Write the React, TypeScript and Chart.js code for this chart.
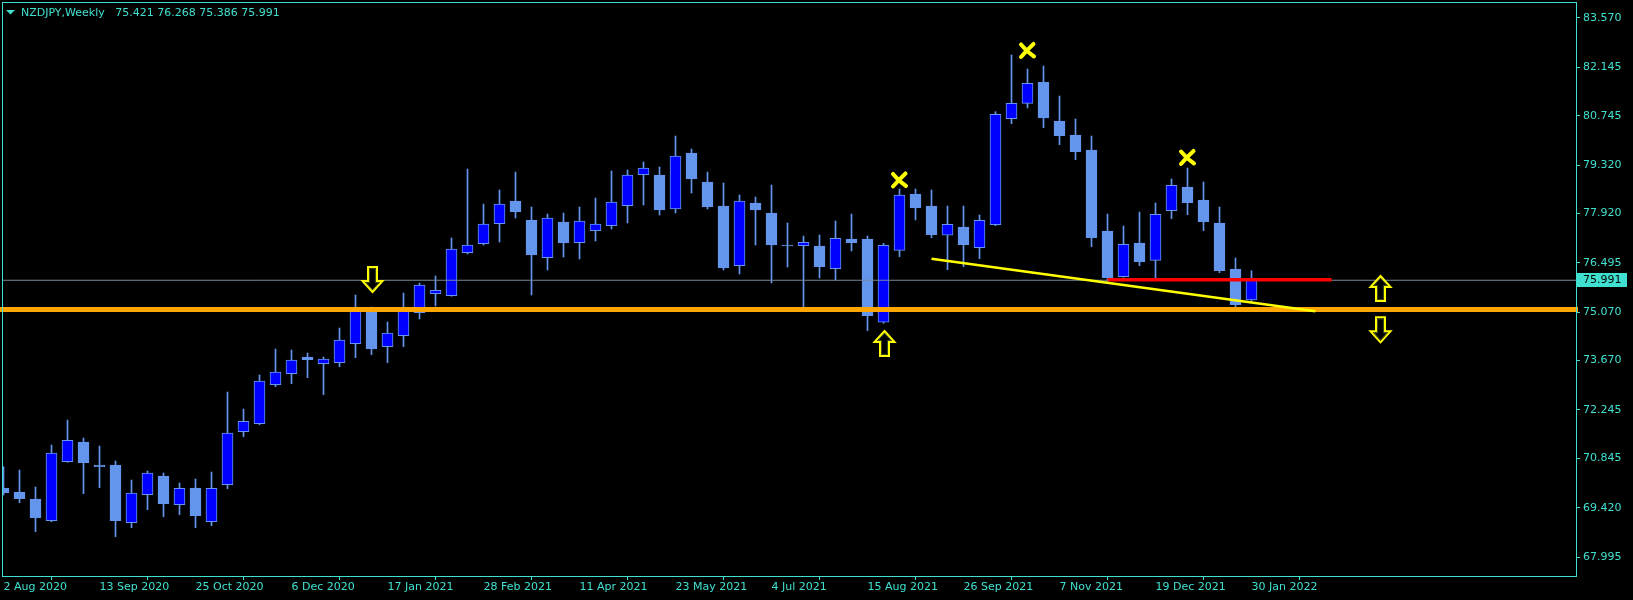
import React, { useEffect, useRef } from 'react';
import { Chart, registerables } from 'chart.js';

Chart.register(...registerables);

// ---- Data (weekly NZDJPY candles, index 0 = 2 Aug 2020) ----
const opens = [
  69.980, 69.873, 69.670, 69.043, 70.748, 71.318, 70.653, 70.653, 68.986, 69.795,
  70.335, 69.506, 69.988, 69.014, 70.084, 71.615, 71.846, 72.973, 73.291, 73.774,
  73.580, 73.609, 74.158, 75.083, 74.071, 74.389, 75.054, 75.603, 75.545, 76.788,
  77.048, 77.626, 78.282, 77.733, 76.643, 77.675, 77.077, 77.423, 77.568, 78.146,
  79.042, 79.033, 78.051, 79.669, 78.831, 78.137, 76.412, 78.224, 77.935, 77.010,
  76.990, 76.981, 76.325, 77.184, 77.184, 74.777, 76.857, 78.484, 78.137, 77.291,
  77.530, 76.932, 77.597, 80.660, 81.105, 81.712, 80.593, 80.189, 79.755, 77.415,
  76.094, 77.068, 76.568, 78.001, 78.686, 78.311, 77.646, 76.317, 75.421,
];
const highs = [
  70.604, 70.508, 70.017, 71.231, 71.953, 71.433, 71.202, 70.768, 70.219, 70.480,
  70.422, 70.133, 70.248, 70.451, 72.762, 72.271, 73.254, 74.005, 73.976, 73.889,
  73.774, 74.612, 75.565, 75.219, 74.785, 75.623, 75.912, 76.114, 77.213, 79.206,
  78.195, 78.600, 79.120, 78.108, 77.906, 77.935, 78.108, 78.368, 79.149, 79.178,
  79.409, 79.264, 80.160, 79.784, 79.120, 78.802, 78.455, 78.397, 78.744, 77.646,
  77.270, 77.299, 77.704, 77.906, 77.270, 77.059, 78.628, 78.628, 78.600, 78.137,
  78.137, 77.877, 80.862, 82.501, 82.096, 82.183, 81.316, 80.651, 80.160, 77.906,
  77.559, 77.964, 78.224, 78.917, 79.235, 78.831, 78.108, 76.635, 76.268,
];
const lows = [
  69.786, 69.563, 68.725, 69.014, 70.730, 69.824, 69.997, 68.581, 68.841, 69.361,
  69.159, 69.217, 68.841, 68.899, 69.968, 71.471, 71.817, 72.916, 73.002, 73.176,
  72.684, 73.493, 73.753, 73.840, 73.609, 74.071, 74.872, 75.248, 75.530, 76.750,
  77.010, 77.097, 77.790, 75.565, 76.288, 76.663, 76.606, 77.126, 77.473, 77.646,
  78.166, 77.877, 77.935, 78.513, 78.051, 76.288, 76.172, 77.010, 75.912, 76.374,
  75.200, 76.057, 75.999, 76.837, 74.534, 74.748, 76.672, 77.733, 77.221, 76.296,
  76.383, 76.614, 77.568, 80.515, 80.969, 80.400, 79.909, 79.475, 76.961, 75.950,
  76.080, 76.412, 75.999, 77.770, 77.886, 77.423, 76.210, 75.227, 75.386,
];
const closes = [
  69.853, 69.679, 69.130, 71.000, 71.367, 70.719, 70.604, 69.043, 69.844, 70.422,
  69.535, 69.980, 69.188, 69.980, 71.578, 71.916, 73.080, 73.340, 73.687, 73.696,
  73.716, 74.265, 75.190, 74.005, 74.467, 75.161, 75.854, 75.701, 76.895, 77.010,
  77.617, 78.195, 77.964, 76.721, 77.790, 77.068, 77.704, 77.617, 78.253, 79.033,
  79.235, 78.022, 79.582, 78.917, 78.108, 76.346, 78.282, 78.022, 77.010, 76.981,
  77.088, 76.383, 77.204, 77.077, 74.967, 77.002, 78.455, 78.088, 77.308, 77.608,
  77.019, 77.724, 80.787, 81.105, 81.683, 80.680, 80.169, 79.706, 77.221, 76.065,
  77.030, 76.528, 77.897, 78.735, 78.233, 77.684, 76.268, 75.285, 75.991,
];

const xTickIndexes = [0, 6, 12, 18, 24, 30, 36, 42, 48, 54, 60, 66, 72, 78];
const xTickLabels = [
  '2 Aug 2020', '13 Sep 2020', '25 Oct 2020', '6 Dec 2020', '17 Jan 2021',
  '28 Feb 2021', '11 Apr 2021', '23 May 2021', '4 Jul 2021', '15 Aug 2021',
  '26 Sep 2021', '7 Nov 2021', '19 Dec 2021', '30 Jan 2022',
];
const yTickValues = [
  83.570, 82.145, 80.745, 79.320, 77.920, 76.495, 75.070, 73.670, 72.245, 70.845, 69.420, 67.995,
];

const titleSymbol = 'NZDJPY,Weekly';

// drawn objects
const supportLevel = 75.145; // orange horizontal
const redLineX = [69, 83];
const redLineY = [76.005, 76.005];
const trendX = [58, 82];
const trendY = [76.611, 75.097];
const arrowX = [23, 55, 86, 86];
const arrowTipY = [75.652, 74.525, 76.114, 74.198];
const arrowDir = ['down', 'up', 'up', 'down'];
const crossX = [56, 64, 74];
const crossY = [78.889, 82.631, 79.539];

const TURQ = '#40E0D0';
const BULL = '#0000FF';
const BEAR = '#6495ED';

const X_MIN = -0.09375;
const X_MAX = X_MIN + 1574 / 16;
const Y_MIN = 67.446;
const Y_MAX = 84.032;

const overlayPlugin = {
  id: 'mtOverlay',
  afterDatasetsDraw(chart: any) {
    const { ctx } = chart;
    const xs = chart.scales.x;
    const ys = chart.scales.y;
    ctx.save();
    // arrows
    ctx.lineJoin = 'miter';
    for (let i = 0; i < arrowX.length; i++) {
      const cx = Math.round(xs.getPixelForValue(arrowX[i])) + 0.5;
      const ty = ys.getPixelForValue(arrowTipY[i]);
      const s = arrowDir[i] === 'up' ? 1 : -1;
      const hw = 10, sw = 4.5, hh = 11, total = 25;
      ctx.beginPath();
      ctx.moveTo(cx, ty);
      ctx.lineTo(cx + hw, ty + s * hh);
      ctx.lineTo(cx + sw, ty + s * hh);
      ctx.lineTo(cx + sw, ty + s * total);
      ctx.lineTo(cx - sw, ty + s * total);
      ctx.lineTo(cx - sw, ty + s * hh);
      ctx.lineTo(cx - hw, ty + s * hh);
      ctx.closePath();
      ctx.fillStyle = '#000';
      ctx.fill();
      ctx.strokeStyle = '#FFFF00';
      ctx.lineWidth = 2;
      ctx.stroke();
      ctx.strokeStyle = 'rgba(85,107,47,0.9)';
      ctx.lineWidth = 0.8;
      ctx.beginPath();
      const ins = 1.6;
      ctx.moveTo(cx, ty + s * (ins * 1.5));
      ctx.lineTo(cx + hw - ins * 2.2, ty + s * (hh - ins));
      ctx.lineTo(cx + sw - ins, ty + s * (hh - ins));
      ctx.lineTo(cx + sw - ins, ty + s * (total - ins));
      ctx.lineTo(cx - sw + ins, ty + s * (total - ins));
      ctx.lineTo(cx - sw + ins, ty + s * (hh - ins));
      ctx.lineTo(cx - hw + ins * 2.2, ty + s * (hh - ins));
      ctx.closePath();
      ctx.stroke();
    }
    // crosses
    ctx.strokeStyle = '#FFFF00';
    ctx.lineCap = 'round';
    ctx.lineWidth = 4;
    for (let i = 0; i < crossX.length; i++) {
      const cx = xs.getPixelForValue(crossX[i]);
      const cy = ys.getPixelForValue(crossY[i]);
      ctx.beginPath();
      ctx.moveTo(cx - 6.5, cy - 6);
      ctx.quadraticCurveTo(cx - 1, cy + 1, cx + 6.5, cy + 6);
      ctx.moveTo(cx + 6, cy - 6.5);
      ctx.quadraticCurveTo(cx, cy - 1, cx - 6.5, cy + 6.5);
      ctx.stroke();
    }
    ctx.restore();
  },
  afterDraw(chart: any) {
    const { ctx } = chart;
    const ys = chart.scales.y;
    ctx.save();
    // frame
    ctx.strokeStyle = TURQ;
    ctx.lineWidth = 1;
    ctx.strokeRect(2.5, 2.5, 1574, 574);
    // title
    ctx.fillStyle = TURQ;
    ctx.beginPath();
    ctx.moveTo(6, 10);
    ctx.lineTo(15, 10);
    ctx.lineTo(10.5, 14.5);
    ctx.closePath();
    ctx.fill();
    ctx.font = '11px "DejaVu Sans"';
    ctx.textBaseline = 'middle';
    ctx.textAlign = 'left';
    const last = opens.length - 1;
    const title = `${titleSymbol}   ${opens[last].toFixed(3)} ${highs[last].toFixed(3)} ${lows[last].toFixed(3)} ${closes[last].toFixed(3)}`;
    ctx.fillText(title, 21, 13);
    // price label
    const py = Math.round(ys.getPixelForValue(closes[last]));
    ctx.fillStyle = TURQ;
    ctx.fillRect(1577, py - 7, 50, 14);
    ctx.fillStyle = '#000';
    ctx.fillText(closes[last].toFixed(3), 1583, py + 0.5);
    ctx.restore();
  },
};

export default function App() {
  const canvasRef = useRef<HTMLCanvasElement | null>(null);

  useEffect(() => {
    document.body.style.margin = '0';
    document.body.style.background = '#000';
    const canvas = canvasRef.current;
    if (!canvas) return;

    const bodyData = opens.map((o, i) => ({ x: i, y: [Math.min(o, closes[i]), Math.max(o, closes[i])] }));
    const wickData = opens.map((_, i) => ({ x: i, y: [lows[i], highs[i]] }));
    const bodyColors = opens.map((o, i) => (closes[i] >= o ? BULL : BEAR));
    const lastClose = closes[closes.length - 1];

    const chart = new Chart(canvas, {
      type: 'bar',
      data: {
        datasets: [
          {
            type: 'line',
            data: [{ x: trendX[0], y: trendY[0] }, { x: trendX[1], y: trendY[1] }],
            borderColor: '#FFFF00',
            borderWidth: 2.5,
            pointRadius: 0,
            order: 0.1,
          } as any,
          {
            type: 'line',
            data: [{ x: redLineX[0], y: redLineY[0] }, { x: redLineX[1], y: redLineY[1] }],
            borderColor: '#FF0000',
            borderWidth: 3.5,
            pointRadius: 0,
            order: 0.2,
          } as any,
          {
            type: 'line',
            data: [{ x: -1, y: supportLevel }, { x: 100, y: supportLevel }],
            borderColor: '#FFA500',
            borderWidth: 5,
            pointRadius: 0,
            order: 0.3,
            clip: { left: 2, right: 2, top: 0, bottom: 0 },
          } as any,
          {
            type: 'line',
            data: [{ x: -1, y: lastClose }, { x: 100, y: lastClose }],
            borderColor: '#778899',
            borderWidth: 1,
            pointRadius: 0,
            order: 0.4,
          } as any,
          {
            type: 'bar',
            data: bodyData as any,
            backgroundColor: bodyColors,
            borderColor: BEAR,
            borderWidth: 1,
            borderSkipped: false,
            barThickness: 11,
            grouped: false,
            minBarLength: 1,
            order: 1,
          } as any,
          {
            type: 'bar',
            data: wickData as any,
            backgroundColor: BEAR,
            borderWidth: 0,
            barThickness: 1,
            grouped: false,
            order: 2,
          } as any,
        ],
      },
      options: {
        responsive: false,
        animation: false,
        events: [],
        layout: { autoPadding: false, padding: { left: 2, top: 2, right: 0, bottom: 0 } },
        plugins: { legend: { display: false }, tooltip: { enabled: false } },
        scales: {
          x: {
            type: 'linear',
            min: X_MIN,
            max: X_MAX,
            offset: false,
            border: { display: false },
            grid: { drawOnChartArea: false, drawTicks: true, tickLength: 4, color: TURQ },
            afterBuildTicks: (scale: any) => {
              scale.ticks = xTickIndexes.map((v) => ({ value: v }));
            },
            afterFit: (scale: any) => {
              scale.height = 24;
              scale.paddingLeft = 0;
              scale.paddingRight = 0;
              scale.paddingTop = 0;
              scale.paddingBottom = 0;
            },
            ticks: {
              autoSkip: false,
              maxRotation: 0,
              minRotation: 0,
              align: 'start',
              padding: 1,
              color: TURQ,
              font: { family: '"DejaVu Sans"', size: 11 },
              callback: (_v: any, idx: number) => xTickLabels[idx],
            },
          },
          y: {
            type: 'linear',
            position: 'right',
            min: Y_MIN,
            max: Y_MAX,
            border: { display: false },
            grid: { drawOnChartArea: false, drawTicks: true, tickLength: 4, color: TURQ },
            afterBuildTicks: (scale: any) => {
              scale.ticks = yTickValues.map((v) => ({ value: v }));
            },
            afterFit: (scale: any) => {
              scale.width = 57;
              scale.paddingTop = 0;
              scale.paddingBottom = 0;
              scale.paddingLeft = 0;
              scale.paddingRight = 0;
            },
            ticks: {
              autoSkip: false,
              padding: 3,
              color: TURQ,
              font: { family: '"DejaVu Sans"', size: 11 },
              callback: (v: any) => Number(v).toFixed(3),
            },
          },
        },
      } as any,
      plugins: [overlayPlugin],
    });

    return () => chart.destroy();
  }, []);

  return (
    <div style={{ width: 1633, height: 600, background: '#000', overflow: 'hidden' }}>
      <canvas ref={canvasRef} width={1633} height={600} style={{ display: 'block' }} />
    </div>
  );
}
